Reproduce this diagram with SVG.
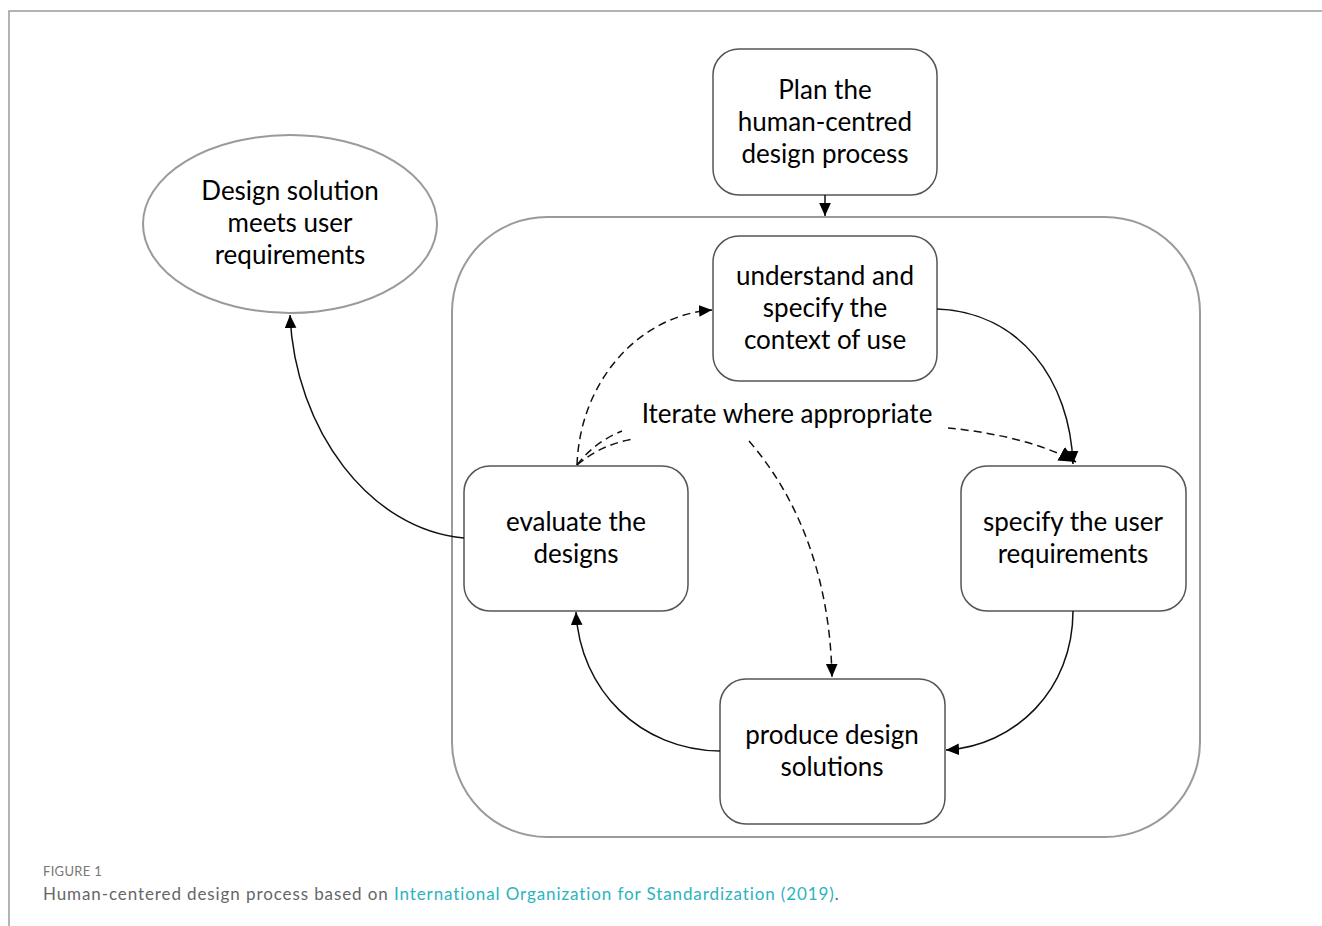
<svg xmlns="http://www.w3.org/2000/svg" width="1322" height="926" viewBox="0 0 1322 926">
  <style>
    .frame { fill: none; stroke: #9a9a9a; stroke-width: 1.5; }
    .container { fill: none; stroke: #9a9a9a; stroke-width: 2; }
    .box { fill: #ffffff; stroke: #555555; stroke-width: 1.5; }
    .oval { fill: #ffffff; stroke: #9a9a9a; stroke-width: 2; }
    .label { font-family: Lato, "Open Sans", sans-serif; font-size: 26px; fill: #000000; text-anchor: middle; }
    .solid { fill: none; stroke: #111111; stroke-width: 1.5; }
    .dashed { fill: none; stroke: #111111; stroke-width: 1.5; stroke-dasharray: 8 5; }
    .caption { font-family: Lato, "Open Sans", sans-serif; }
  </style>
  <defs>
    <marker id="arrow" viewBox="0 0 10 10" refX="10" refY="5" markerWidth="13" markerHeight="13" markerUnits="userSpaceOnUse" orient="auto">
      <path d="M0,0.5 L10,5 L0,9.5 Z" fill="#000000"/>
    </marker>
    <marker id="arrowL" viewBox="0 0 10 10" refX="10" refY="5" markerWidth="17" markerHeight="17" markerUnits="userSpaceOnUse" orient="auto">
      <path d="M0,0.5 L10,5 L0,9.5 Z" fill="#000000"/>
    </marker>
  </defs>

  <!-- page frame -->
  <path class="frame" d="M9,926 L9,11 L1322,11"/>

  <!-- iteration container -->
  <rect id="container" class="container" x="452" y="217" width="748" height="620" rx="95" ry="95"/>

  <g id="node-plan">
    <rect class="box" x="713" y="49" width="224" height="146" rx="26" ry="26"/>
    <text class="label" x="825" y="99">Plan the</text>
    <text class="label" x="825" y="131">human-centred</text>
    <text class="label" x="825" y="163">design process</text>
  </g>

  <g id="node-context">
    <rect class="box" x="713" y="236" width="224" height="145" rx="26" ry="26"/>
    <text class="label" x="825" y="285">understand and</text>
    <text class="label" x="825" y="317">specify the</text>
    <text class="label" x="825" y="349">context of use</text>
  </g>

  <g id="node-requirements">
    <rect class="box" x="961" y="466" width="225" height="145" rx="26" ry="26"/>
    <text class="label" x="1073" y="531">specify the user</text>
    <text class="label" x="1073" y="563">requirements</text>
  </g>

  <g id="node-produce">
    <rect class="box" x="720" y="679" width="225" height="145" rx="26" ry="26"/>
    <text class="label" x="832" y="744">produce design</text>
    <text class="label" x="832" y="776">solutions</text>
  </g>

  <g id="node-evaluate">
    <rect class="box" x="464" y="466" width="224" height="145" rx="26" ry="26"/>
    <text class="label" x="576" y="531">evaluate the</text>
    <text class="label" x="576" y="563">designs</text>
  </g>

  <g id="node-meets">
    <ellipse class="oval" cx="290" cy="224" rx="147" ry="89"/>
    <text class="label" x="290" y="200">Design solution</text>
    <text class="label" x="290" y="232">meets user</text>
    <text class="label" x="290" y="264">requirements</text>
  </g>

  <g id="iterate-label">
    <text class="label" x="787" y="423">Iterate where appropriate</text>
  </g>

  <g id="connectors">
    <path class="solid" d="M825,195 L825,216" marker-end="url(#arrow)"/>
    <path class="solid" d="M937,309 C1020,312 1070,380 1073,464" marker-end="url(#arrow)"/>
    <path class="solid" d="M1073,611 C1073,690 1015,746 946,750" marker-end="url(#arrow)"/>
    <path class="solid" d="M720,751 C640,750 580,690 576,612" marker-end="url(#arrow)"/>
    <path class="solid" d="M464,538 C370,530 295,430 290,315" marker-end="url(#arrow)"/>

    <path class="dashed" d="M577,465 C580,380 640,315 712,310" marker-end="url(#arrow)"/>
    <path class="dashed" d="M577,465 C590,448 605,438 622,431"/>
    <path class="dashed" d="M577,465 C595,450 612,443 633,439"/>
    <path class="dashed" d="M948,428 C990,432 1040,442 1076,462" marker-end="url(#arrowL)"/>
    <path class="dashed" d="M749,441 C800,500 830,580 832,677" marker-end="url(#arrow)"/>
  </g>

  <g id="caption">
    <text class="caption" x="43" y="876" font-size="13" fill="#777777" letter-spacing="0.3">FIGURE 1</text>
    <text class="caption" x="43" y="900" font-size="17" fill="#666666" letter-spacing="0.9">Human-centered design process based on <tspan fill="#2bb3c0">International Organization for Standardization (2019)</tspan>.</text>
  </g>
</svg>
